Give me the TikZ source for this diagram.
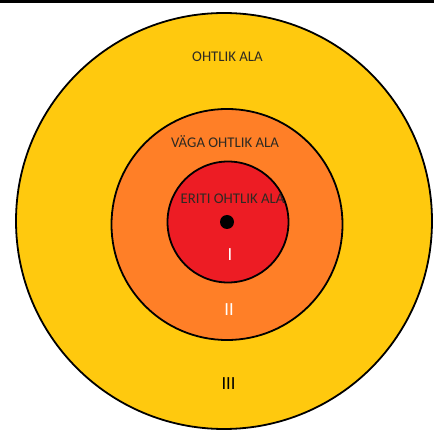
\documentclass[tikz,border=0pt]{standalone}
\usepackage{fontspec}
\setmainfont{Carlito}
\usepackage{xcolor}
\usepackage{tikz}

\definecolor{zoneyellow}{HTML}{FFC90E}
\definecolor{zoneorange}{HTML}{FF7F27}
\definecolor{zonered}{HTML}{ED1C24}
\definecolor{labelgray}{HTML}{2E2A22}

\begin{document}
\begin{tikzpicture}[x=1pt, y=-1pt,
    zone/.style={draw=black, line width=1.8pt, circle, inner sep=0pt},
    zonelabel/.style={anchor=base, inner sep=0pt, text=labelgray, font=\fontsize{14.8}{16}\selectfont},
    numeral/.style={anchor=base, inner sep=0pt, font=\fontsize{18.5}{20}\selectfont}]
    \useasboundingbox (0,0) rectangle (434,430);
    \fill [black] (0,0) rectangle (434,3);

    \node [zone, fill=zoneyellow, minimum size=416pt] (outer) at (224,221) {};
    \node [zone, fill=zoneorange, minimum size=231pt] (middle) at (227,224.5) {};
    \node [zone, fill=zonered, minimum size=121pt] (inner) at (228,222) {};
    \node [circle, fill=black, inner sep=0pt, minimum size=14pt] (centre) at (227,222) {};

    \node [zonelabel] (outerlabel) at (227.5,62) {OHTLIK ALA};
    \node [zonelabel] (middlelabel) at (225,148) {VÄGA OHTLIK ALA};
    \node [zonelabel] (innerlabel) at (232.5,204) {ERITI OHTLIK ALA};

    \node [numeral, text=white] (one) at (230,261) {I};
    \node [numeral, text=white] (two) at (229,316) {II};
    \node [numeral, text=black] (three) at (228.5,390) {III};
\end{tikzpicture}
\end{document}
